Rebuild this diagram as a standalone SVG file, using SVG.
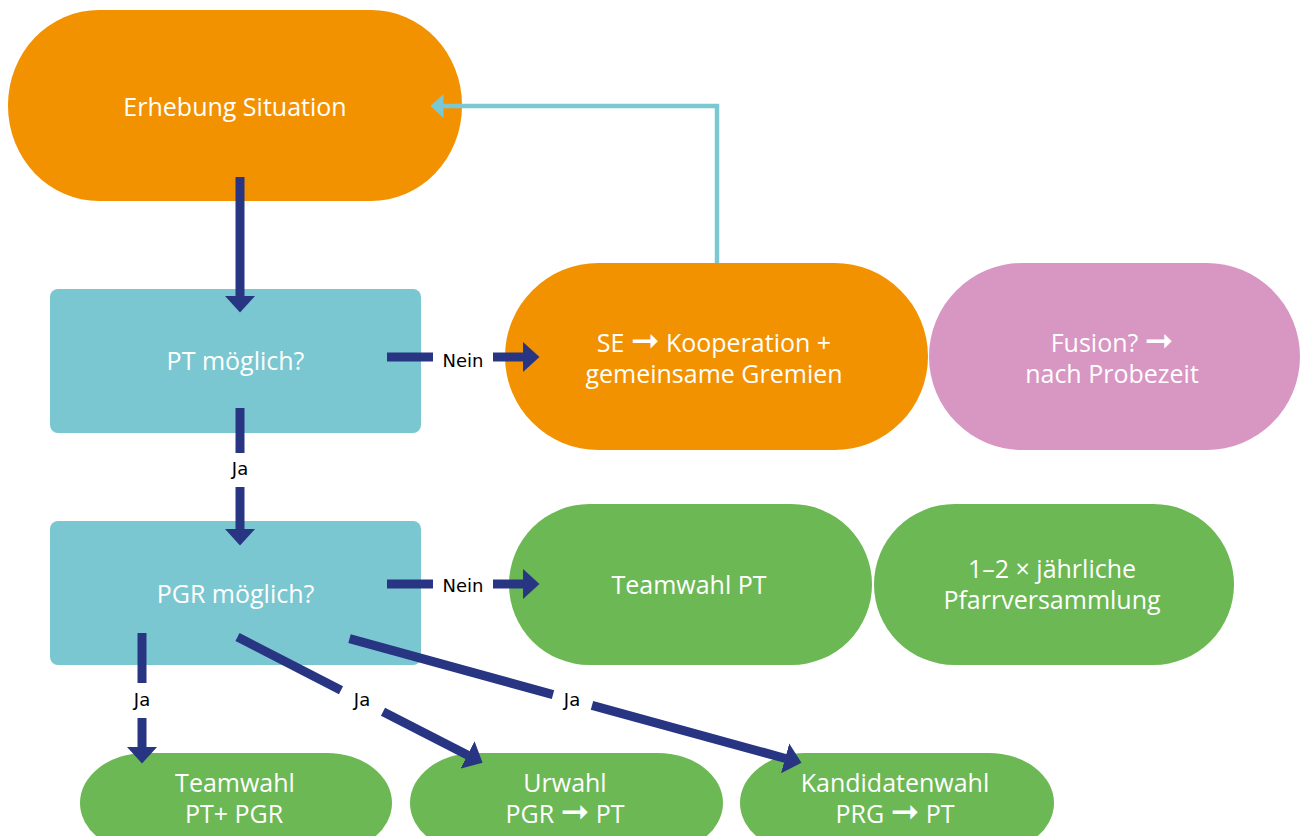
<svg xmlns="http://www.w3.org/2000/svg" width="1307" height="836" viewBox="0 0 1307 836">
  <style>
    .orange { fill: #f39200; }
    .cyan { fill: #7ac7d1; }
    .green { fill: #6cb854; }
    .pink { fill: #d896c3; }
    .nt { fill: #ffffff; font-family: "Open Sans", "Noto Sans", "DejaVu Sans", sans-serif; font-size: 25px; text-anchor: middle; }
    .arr { font-family: "DejaVu Sans", sans-serif; font-size: 34px; }
    .lbl { fill: #000000; font-family: "DejaVu Sans", sans-serif; font-size: 18px; text-anchor: middle; }
    .c { fill: none; stroke: #283583; stroke-width: 9; stroke-linecap: butt; }
    .ch { marker-end: url(#ah); }
    .fb { fill: none; stroke: #7bc8d3; stroke-width: 4.5; stroke-linejoin: miter; marker-end: url(#ahc); }
  </style>
  <defs>
    <marker id="ah" markerUnits="userSpaceOnUse" markerWidth="17" markerHeight="31" viewBox="0 0 17 31" refX="0.5" refY="15.5" orient="auto">
      <path d="M0,0 L17,15.5 L0,31 Z" fill="#283583"/>
    </marker>
    <marker id="ahc" markerUnits="userSpaceOnUse" markerWidth="13" markerHeight="24" viewBox="0 0 13 24" refX="0.5" refY="12" orient="auto">
      <path d="M0,0 L13,12 L0,24 Z" fill="#7bc8d3"/>
    </marker>
  </defs>

  <g id="n-erhebung">
    <rect class="orange" x="8" y="10" width="454" height="191" rx="91" ry="95"/>
    <text class="nt" x="235" y="116">Erhebung Situation</text>
  </g>

  <g id="n-pt">
    <rect class="cyan" x="50" y="289" width="371" height="144" rx="8"/>
    <text class="nt" x="235.5" y="370">PT möglich?</text>
  </g>

  <g id="n-pgr">
    <rect class="cyan" x="50" y="521" width="371" height="144" rx="8"/>
    <text class="nt" x="235.5" y="603">PGR möglich?</text>
  </g>

  <g id="n-se">
    <rect class="orange" x="505" y="263" width="423" height="187" rx="93.5"/>
    <text class="nt" x="714" y="352">SE <tspan class="arr">➞</tspan> Kooperation +</text>
    <text class="nt" x="714" y="383">gemeinsame Gremien</text>
  </g>

  <g id="n-fusion">
    <rect class="pink" x="929" y="263" width="371" height="187" rx="93.5"/>
    <text class="nt" x="1112" y="352">Fusion? <tspan class="arr">➞</tspan></text>
    <text class="nt" x="1112" y="383">nach Probezeit</text>
  </g>

  <g id="n-teamwahl-pt">
    <rect class="green" x="509" y="504" width="363" height="161" rx="80.5"/>
    <text class="nt" x="689" y="594">Teamwahl PT</text>
  </g>

  <g id="n-pfarrversammlung">
    <rect class="green" x="874" y="504" width="360" height="161" rx="80.5"/>
    <text class="nt" x="1052" y="578">1–2 × jährliche</text>
    <text class="nt" x="1052" y="609">Pfarrversammlung</text>
  </g>

  <g id="n-teamwahl-pt-pgr">
    <rect class="green" x="80" y="753" width="312" height="100" rx="65" ry="50"/>
    <text class="nt" x="235" y="792">Teamwahl</text>
    <text class="nt" x="234" y="823">PT+ PGR</text>
  </g>

  <g id="n-urwahl">
    <rect class="green" x="410" y="753" width="313" height="100" rx="65" ry="50"/>
    <text class="nt" x="565" y="792">Urwahl</text>
    <text class="nt" x="565" y="823">PGR <tspan class="arr">➞</tspan> PT</text>
  </g>

  <g id="n-kandidatenwahl">
    <rect class="green" x="740" y="753" width="314" height="100" rx="65" ry="50"/>
    <text class="nt" x="895" y="792">Kandidatenwahl</text>
    <text class="nt" x="895" y="823">PRG <tspan class="arr">➞</tspan> PT</text>
  </g>

  <g id="connectors">
    <polyline class="fb" points="717,263 717,106 443,106"/>
    <line class="c ch" x1="240" y1="177" x2="240" y2="296"/>
    <line class="c" x1="387" y1="357" x2="433" y2="357"/>
    <line class="c ch" x1="493" y1="357" x2="523" y2="357"/>
    <text class="lbl" x="463" y="367">Nein</text>
    <line class="c" x1="240" y1="408" x2="240" y2="453"/>
    <line class="c ch" x1="240" y1="487" x2="240" y2="529"/>
    <text class="lbl" x="240" y="475">Ja</text>
    <line class="c" x1="387" y1="584" x2="433" y2="584"/>
    <line class="c ch" x1="493" y1="584" x2="523" y2="584"/>
    <text class="lbl" x="463" y="592">Nein</text>
    <line class="c" x1="142" y1="633" x2="142" y2="683"/>
    <line class="c ch" x1="142" y1="718" x2="142" y2="747"/>
    <text class="lbl" x="142" y="706">Ja</text>
    <line class="c" x1="237.5" y1="637" x2="341" y2="690.2"/>
    <line class="c ch" x1="383" y1="711.7" x2="467.9" y2="755.2"/>
    <text class="lbl" x="362" y="706">Ja</text>
    <line class="c" x1="349.5" y1="638.7" x2="553" y2="694.6"/>
    <line class="c ch" x1="592" y1="705.3" x2="785.6" y2="758.5"/>
    <text class="lbl" x="572" y="706">Ja</text>
  </g>
</svg>
